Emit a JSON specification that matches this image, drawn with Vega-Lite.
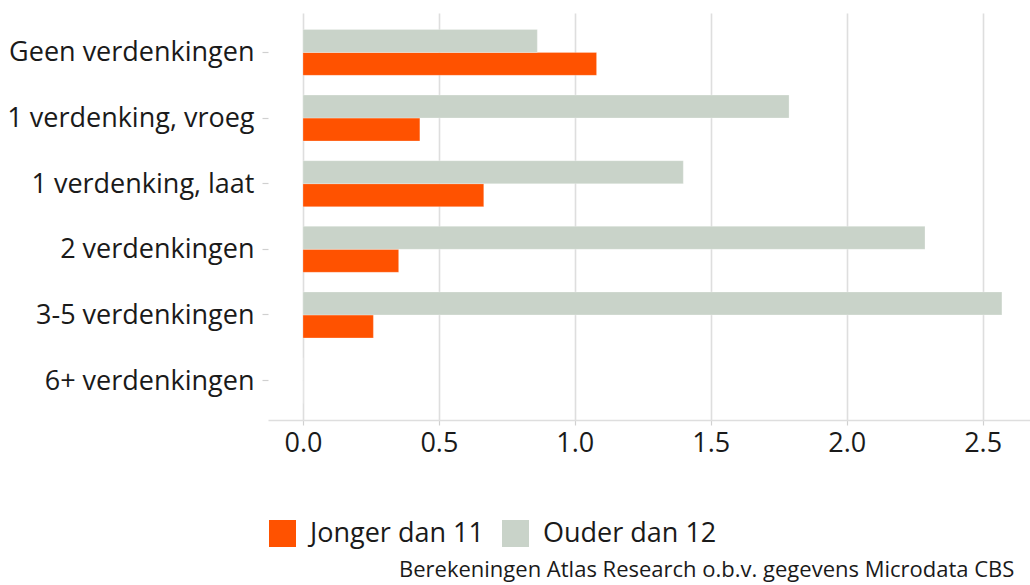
{
  "$schema": "https://vega.github.io/schema/vega-lite/v6.json",
  "autosize": {"type": "none"},
  "width": 769,
  "height": 407,
  "padding": {"left": 268, "top": 13, "right": 0, "bottom": 165},
  "background": "white",
  "config": {
    "font": "Open Sans",
    "view": {"stroke": null}
  },
  "title": {
    "text": "Berekeningen Atlas Research o.b.v. gegevens Microdata CBS",
    "orient": "bottom",
    "anchor": "start",
    "frame": "group",
    "dx": 131,
    "offset": 13,
    "fontSize": 22,
    "fontWeight": "normal",
    "color": "#1a1a1a",
    "font": "Open Sans",
    "limit": 2000
  },
  "data": {
    "values": [
      {"cat": "Geen verdenkingen", "groep": "Jonger dan 11", "waarde": 1.080},
      {"cat": "Geen verdenkingen", "groep": "Ouder dan 12", "waarde": 0.862},
      {"cat": "1 verdenking, vroeg", "groep": "Jonger dan 11", "waarde": 0.430},
      {"cat": "1 verdenking, vroeg", "groep": "Ouder dan 12", "waarde": 1.788},
      {"cat": "1 verdenking, laat", "groep": "Jonger dan 11", "waarde": 0.665},
      {"cat": "1 verdenking, laat", "groep": "Ouder dan 12", "waarde": 1.399},
      {"cat": "2 verdenkingen", "groep": "Jonger dan 11", "waarde": 0.352},
      {"cat": "2 verdenkingen", "groep": "Ouder dan 12", "waarde": 2.288},
      {"cat": "3-5 verdenkingen", "groep": "Jonger dan 11", "waarde": 0.259},
      {"cat": "3-5 verdenkingen", "groep": "Ouder dan 12", "waarde": 2.571},
      {"cat": "6+ verdenkingen", "groep": "Jonger dan 11", "waarde": 0},
      {"cat": "6+ verdenkingen", "groep": "Ouder dan 12", "waarde": 0}
    ]
  },
  "mark": {"type": "bar", "stroke": "white", "strokeWidth": 0.5, "strokeOpacity": 0.5},
  "encoding": {
    "y": {
      "field": "cat",
      "type": "nominal",
      "sort": ["Geen verdenkingen", "1 verdenking, vroeg", "1 verdenking, laat", "2 verdenkingen", "3-5 verdenkingen", "6+ verdenkingen"],
      "scale": {"paddingInner": 0.3, "paddingOuter": 0.25},
      "axis": {
        "title": null,
        "domain": false,
        "grid": false,
        "ticks": true,
        "tickSize": 6,
        "tickColor": "#d0d0d0",
        "tickWidth": 1.2,
        "labelPadding": 8,
        "labelFontSize": 27,
        "labelColor": "#1a1a1a",
        "labelFont": "Open Sans",
        "labelLimit": 400,
        "labelOffset": 1
      }
    },
    "yOffset": {
      "field": "groep",
      "type": "nominal",
      "sort": ["Ouder dan 12", "Jonger dan 11"],
      "scale": {"paddingInner": 0, "paddingOuter": 0}
    },
    "x": {
      "field": "waarde",
      "type": "quantitative",
      "scale": {"domain": [-0.1286, 2.7], "nice": false, "zero": false},
      "axis": {
        "title": null,
        "values": [0, 0.5, 1, 1.5, 2, 2.5],
        "format": ".1f",
        "grid": true,
        "gridColor": "#dedede",
        "gridWidth": 1.6,
        "domain": true,
        "domainColor": "#dedede",
        "domainWidth": 1.6,
        "ticks": true,
        "tickSize": 5,
        "tickColor": "#d0d0d0",
        "tickWidth": 1.2,
        "labelPadding": 5,
        "labelFontSize": 27,
        "labelColor": "#1a1a1a",
        "labelFont": "Open Sans"
      }
    },
    "x2": {"datum": 0},
    "color": {
      "field": "groep",
      "type": "nominal",
      "scale": {"domain": ["Jonger dan 11", "Ouder dan 12"], "range": ["#ff5200", "#c9d3c9"]},
      "legend": {
        "title": null,
        "orient": "none",
        "direction": "horizontal",
        "legendX": 1,
        "legendY": 507,
        "symbolType": "square",
        "symbolSize": 729,
        "symbolStrokeWidth": 0,
        "symbolOpacity": 1,
        "labelFontSize": 27,
        "labelFont": "Open Sans",
        "labelColor": "#1a1a1a",
        "labelOffset": 14,
        "labelLimit": 500,
        "columnPadding": 18
      }
    }
  }
}
